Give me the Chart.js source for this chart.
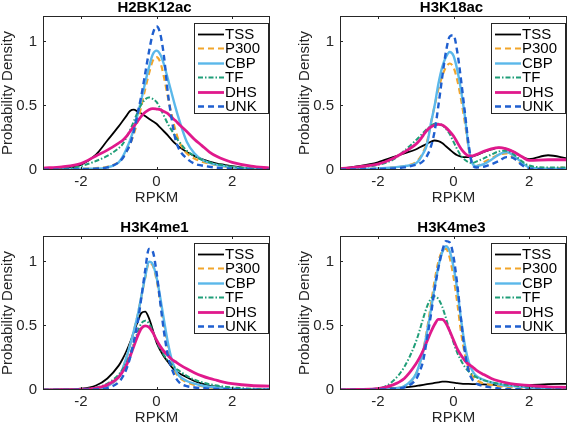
<!DOCTYPE html>
<html>
<head>
<meta charset="utf-8">
<script src="https://cdn.jsdelivr.net/npm/chart.js@4.4.1/dist/chart.umd.min.js"></script>
<style>
    html, body { margin: 0; padding: 0; background: #fff; overflow: hidden; width: 567px; height: 423px; }
    canvas.panel { position: absolute; }
</style>
</head>
<body>
<canvas id="p1" class="panel" width="283" height="212" style="left:0px;top:0px"></canvas>
<canvas id="p2" class="panel" width="283" height="212" style="left:297px;top:0px"></canvas>
<canvas id="p3" class="panel" width="283" height="212" style="left:0px;top:220px"></canvas>
<canvas id="p4" class="panel" width="283" height="212" style="left:297px;top:220px"></canvas>
<script>
const xGrid = [-3, -2.5, -2, -1.6, -1.3, -1, -0.9, -0.8, -0.7, -0.6, -0.5, -0.4, -0.3, -0.2, -0.1, 0,
               0.1, 0.2, 0.3, 0.4, 0.5, 0.6, 0.8, 1, 1.2, 1.4, 1.6, 1.8, 2, 2.5, 3];
const xTicks = [-2, 0, 2];
const yTicks = [0, 0.5, 1];
const seriesNames = ['TSS', 'P300', 'CBP', 'TF', 'DHS', 'UNK'];

// H2BK12ac
const h2bkTSS  = [0.005, 0.01, 0.04, 0.12, 0.23, 0.34, 0.38, 0.42, 0.46, 0.47, 0.455, 0.44, 0.42, 0.40, 0.38, 0.36, 0.33, 0.30, 0.27, 0.235, 0.205, 0.18, 0.14, 0.11, 0.085, 0.065, 0.05, 0.04, 0.03, 0.012, 0.005];
const h2bkP300 = [0.003, 0.005, 0.01, 0.015, 0.025, 0.06, 0.09, 0.14, 0.2, 0.28, 0.38, 0.5, 0.63, 0.75, 0.85, 0.88, 0.84, 0.72, 0.57, 0.43, 0.31, 0.22, 0.13, 0.09, 0.065, 0.05, 0.038, 0.028, 0.02, 0.008, 0.004];
const h2bkCBP  = [0.003, 0.005, 0.01, 0.01, 0.02, 0.06, 0.1, 0.16, 0.23, 0.32, 0.43, 0.55, 0.68, 0.8, 0.9, 0.93, 0.9, 0.82, 0.71, 0.6, 0.49, 0.39, 0.22, 0.13, 0.08, 0.055, 0.04, 0.03, 0.02, 0.01, 0.005];
const h2bkTF   = [0.005, 0.01, 0.03, 0.07, 0.11, 0.17, 0.2, 0.25, 0.31, 0.38, 0.45, 0.51, 0.55, 0.565, 0.555, 0.53, 0.48, 0.42, 0.36, 0.31, 0.26, 0.22, 0.15, 0.11, 0.08, 0.06, 0.045, 0.035, 0.025, 0.012, 0.006];
const h2bkDHS  = [0.015, 0.025, 0.05, 0.11, 0.155, 0.21, 0.23, 0.26, 0.3, 0.34, 0.38, 0.42, 0.45, 0.47, 0.478, 0.475, 0.47, 0.455, 0.44, 0.41, 0.385, 0.355, 0.3, 0.24, 0.19, 0.14, 0.105, 0.08, 0.06, 0.03, 0.015];
const h2bkUNK  = [0.002, 0.003, 0.005, 0.01, 0.02, 0.06, 0.09, 0.14, 0.2, 0.3, 0.44, 0.58, 0.75, 0.92, 1.06, 1.12, 1.06, 0.88, 0.6, 0.4, 0.24, 0.16, 0.09, 0.05, 0.035, 0.025, 0.018, 0.013, 0.01, 0.005, 0.002];

// H3K18ac
const h3k18TSS  = [0.01, 0.03, 0.06, 0.1, 0.13, 0.16, 0.175, 0.19, 0.205, 0.22, 0.23, 0.225, 0.21, 0.185, 0.16, 0.135, 0.115, 0.105, 0.1, 0.1, 0.105, 0.115, 0.14, 0.16, 0.175, 0.165, 0.14, 0.105, 0.085, 0.115, 0.09];
const h3k18P300 = [0.005, 0.008, 0.012, 0.02, 0.03, 0.06, 0.09, 0.14, 0.22, 0.36, 0.5, 0.63, 0.73, 0.8, 0.83, 0.8, 0.7, 0.55, 0.37, 0.17, 0.05, 0.03, 0.06, 0.09, 0.12, 0.13, 0.09, 0.05, 0.02, 0.01, 0.02];
const h3k18CBP  = [0.005, 0.008, 0.012, 0.02, 0.03, 0.05, 0.08, 0.13, 0.2, 0.36, 0.5, 0.67, 0.8, 0.88, 0.92, 0.89, 0.78, 0.62, 0.42, 0.18, 0.05, 0.03, 0.045, 0.08, 0.12, 0.14, 0.11, 0.06, 0.02, 0.01, 0.01];
const h3k18TF   = [0.01, 0.02, 0.04, 0.08, 0.15, 0.23, 0.26, 0.29, 0.32, 0.345, 0.36, 0.36, 0.35, 0.32, 0.28, 0.22, 0.16, 0.11, 0.08, 0.06, 0.055, 0.065, 0.09, 0.12, 0.145, 0.15, 0.12, 0.07, 0.035, 0.02, 0.02];
const h3k18DHS  = [0.01, 0.025, 0.045, 0.09, 0.14, 0.2, 0.23, 0.27, 0.31, 0.335, 0.35, 0.355, 0.35, 0.33, 0.3, 0.265, 0.215, 0.165, 0.13, 0.11, 0.11, 0.12, 0.145, 0.165, 0.175, 0.165, 0.14, 0.105, 0.075, 0.08, 0.08];
const h3k18UNK  = [0.003, 0.005, 0.008, 0.012, 0.02, 0.04, 0.05, 0.07, 0.11, 0.18, 0.3, 0.5, 0.72, 0.92, 1.04, 1.05, 0.92, 0.7, 0.45, 0.2, 0.04, 0.02, 0.025, 0.045, 0.07, 0.1, 0.09, 0.04, 0.01, 0.005, 0.005];

// H3K4me1
const h3k4me1TSS  = [0.002, 0.004, 0.01, 0.035, 0.09, 0.19, 0.24, 0.3, 0.37, 0.45, 0.53, 0.6, 0.61, 0.56, 0.47, 0.37, 0.31, 0.26, 0.22, 0.18, 0.15, 0.13, 0.1, 0.07, 0.05, 0.035, 0.025, 0.015, 0.01, 0.004, 0.002];
const h3k4me1P300 = [0.001, 0.002, 0.004, 0.01, 0.03, 0.1, 0.16, 0.25, 0.35, 0.46, 0.58, 0.73, 0.87, 0.99, 0.97, 0.86, 0.69, 0.5, 0.34, 0.22, 0.14, 0.1, 0.06, 0.04, 0.03, 0.02, 0.015, 0.012, 0.008, 0.004, 0.002];
const h3k4me1CBP  = [0.001, 0.002, 0.004, 0.01, 0.03, 0.1, 0.16, 0.25, 0.35, 0.46, 0.58, 0.73, 0.88, 1.0, 0.98, 0.88, 0.72, 0.54, 0.37, 0.24, 0.16, 0.11, 0.07, 0.05, 0.035, 0.025, 0.02, 0.015, 0.01, 0.005, 0.003];
const h3k4me1TF   = [0.002, 0.003, 0.006, 0.02, 0.05, 0.12, 0.16, 0.21, 0.28, 0.36, 0.45, 0.52, 0.54, 0.52, 0.46, 0.38, 0.32, 0.27, 0.23, 0.2, 0.17, 0.15, 0.11, 0.08, 0.06, 0.045, 0.035, 0.025, 0.02, 0.01, 0.005];
const h3k4me1DHS  = [0.001, 0.002, 0.005, 0.015, 0.04, 0.1, 0.14, 0.19, 0.26, 0.34, 0.42, 0.48, 0.5, 0.49, 0.45, 0.39, 0.34, 0.3, 0.27, 0.24, 0.22, 0.2, 0.165, 0.135, 0.11, 0.09, 0.075, 0.06, 0.05, 0.035, 0.03];
const h3k4me1UNK  = [0.001, 0.001, 0.002, 0.005, 0.015, 0.06, 0.1, 0.16, 0.25, 0.38, 0.52, 0.72, 0.93, 1.1, 1.08, 0.92, 0.68, 0.45, 0.27, 0.17, 0.1, 0.06, 0.03, 0.02, 0.015, 0.01, 0.008, 0.006, 0.005, 0.003, 0.002];

// H3K4me3
const h3k4me3TSS  = [0.002, 0.004, 0.01, 0.015, 0.02, 0.03, 0.035, 0.04, 0.045, 0.05, 0.055, 0.06, 0.065, 0.065, 0.062, 0.058, 0.053, 0.05, 0.048, 0.047, 0.046, 0.045, 0.044, 0.042, 0.038, 0.035, 0.033, 0.035, 0.04, 0.045, 0.048];
const h3k4me3P300 = [0.001, 0.002, 0.004, 0.01, 0.03, 0.12, 0.2, 0.31, 0.47, 0.66, 0.85, 1.0, 1.08, 1.1, 1.03, 0.88, 0.68, 0.45, 0.28, 0.17, 0.11, 0.08, 0.05, 0.04, 0.03, 0.025, 0.02, 0.015, 0.012, 0.008, 0.005];
const h3k4me3CBP  = [0.001, 0.002, 0.004, 0.01, 0.03, 0.12, 0.2, 0.3, 0.45, 0.62, 0.8, 0.96, 1.07, 1.12, 1.08, 0.96, 0.78, 0.55, 0.35, 0.22, 0.15, 0.11, 0.08, 0.06, 0.045, 0.035, 0.03, 0.025, 0.02, 0.015, 0.01];
const h3k4me3TF   = [0.002, 0.004, 0.01, 0.07, 0.18, 0.37, 0.46, 0.56, 0.65, 0.71, 0.73, 0.71, 0.65, 0.56, 0.46, 0.37, 0.29, 0.23, 0.18, 0.145, 0.12, 0.1, 0.075, 0.06, 0.05, 0.04, 0.035, 0.03, 0.025, 0.02, 0.015];
const h3k4me3DHS  = [0.002, 0.004, 0.01, 0.04, 0.09, 0.2, 0.25, 0.31, 0.38, 0.45, 0.51, 0.55, 0.55, 0.52, 0.46, 0.39, 0.32, 0.27, 0.23, 0.2, 0.18, 0.155, 0.12, 0.09, 0.07, 0.055, 0.045, 0.04, 0.035, 0.025, 0.02];
const h3k4me3UNK  = [0.001, 0.001, 0.003, 0.008, 0.02, 0.08, 0.14, 0.23, 0.4, 0.58, 0.78, 0.95, 1.08, 1.16, 1.15, 1.04, 0.82, 0.55, 0.3, 0.15, 0.08, 0.05, 0.03, 0.02, 0.012, 0.008, 0.006, 0.005, 0.004, 0.003, 0.002];

const FONT = "'Liberation Sans', Arial, Helvetica, sans-serif";
const AXIS_COLOR = '#262626';
const seriesStyles = [
    { color: '#000000', width: 1.8, dash: [] },
    { color: '#f2a52b', width: 2.2, dash: [6, 4] },
    { color: '#5bb8ea', width: 2.4, dash: [] },
    { color: '#1f9e78', width: 2, dash: [5, 2, 1.5, 2] },
    { color: '#e0198c', width: 2.8, dash: [] },
    { color: '#1f5fcf', width: 2.4, dash: [6, 4] }
];

// frame, inward ticks, panel title and legend box (MATLAB look)
const panelDecor = {
    id: 'panelDecor',
    afterDatasetsDraw(chart, args, opts) {
        const ctx = chart.ctx;
        const a = chart.chartArea;
        const xs = chart.scales.x, ys = chart.scales.y;
        ctx.save();
        ctx.setLineDash([]);
        ctx.strokeStyle = AXIS_COLOR;
        ctx.lineWidth = 1;
        ctx.strokeRect(a.left + 0.5, a.top + 0.5, a.right - a.left - 1, a.bottom - a.top - 1);
        ctx.beginPath();
        xTicks.forEach(v => {
            const px = Math.round(xs.getPixelForValue(v)) + 0.5;
            ctx.moveTo(px, a.bottom); ctx.lineTo(px, a.bottom - 3);
            ctx.moveTo(px, a.top); ctx.lineTo(px, a.top + 3);
        });
        yTicks.forEach(v => {
            const py = Math.round(ys.getPixelForValue(v)) - 0.5;
            ctx.moveTo(a.left, py); ctx.lineTo(a.left + 3, py);
            ctx.moveTo(a.right, py); ctx.lineTo(a.right - 3, py);
        });
        ctx.stroke();

        // legend
        const lw = 75, lh = 91;
        const lx = a.right - 76, ly = a.top + 7;
        ctx.fillStyle = '#ffffff';
        ctx.fillRect(lx, ly, lw, lh);
        ctx.strokeRect(lx + 0.5, ly + 0.5, lw - 1, lh - 1);
        ctx.font = '15px ' + FONT;
        ctx.textAlign = 'left';
        ctx.textBaseline = 'middle';
        chart.data.datasets.forEach((ds, i) => {
            const y = Math.round(ly + 11 + i * 14.4) + 0.5;
            ctx.setLineDash(ds.borderDash || []);
            ctx.strokeStyle = ds.borderColor;
            ctx.lineWidth = ds.borderWidth;
            ctx.beginPath();
            ctx.moveTo(lx + 4, y);
            ctx.lineTo(lx + 30, y);
            ctx.stroke();
            ctx.fillStyle = '#000000';
            ctx.fillText(ds.label, lx + 31, y + 0.5);
        });
        ctx.restore();
    },
    afterDraw(chart, args, opts) {
        const ctx = chart.ctx;
        const a = chart.chartArea;
        ctx.save();
        ctx.font = 'bold 15px ' + FONT;
        ctx.fillStyle = '#000000';
        ctx.textAlign = 'center';
        ctx.textBaseline = 'middle';
        ctx.fillText(opts.title, (a.left + a.right) / 2 - 2, 7.5);
        ctx.restore();
    }
};

function makePanel(id, title, series) {
    new Chart(document.getElementById(id), {
        type: 'line',
        data: {
            datasets: seriesNames.map((name, i) => ({
                label: name,
                data: xGrid.map((x, j) => ({ x: x, y: series[i][j] })),
                borderColor: seriesStyles[i].color,
                borderWidth: seriesStyles[i].width,
                borderDash: seriesStyles[i].dash,
                fill: false,
                order: seriesNames.length - i
            }))
        },
        options: {
            responsive: false,
            animation: false,
            devicePixelRatio: 1,
            layout: { padding: { top: 16, right: 13, left: 0, bottom: 0 } },
            elements: {
                point: { radius: 0 },
                line: { cubicInterpolationMode: 'monotone' }
            },
            plugins: {
                legend: { display: false },
                tooltip: { enabled: false },
                panelDecor: { title: title }
            },
            scales: {
                x: {
                    type: 'linear',
                    min: -3,
                    max: 3,
                    afterBuildTicks: s => { s.ticks = xTicks.map(v => ({ value: v })); },
                    afterFit: s => { s.height = 42; },
                    grid: { display: false, drawTicks: false },
                    border: { display: false },
                    ticks: {
                        autoSkip: false,
                        maxRotation: 0,
                        padding: 3,
                        color: AXIS_COLOR,
                        font: { family: FONT, size: 15 },
                        callback: v => String(v)
                    },
                    title: {
                        display: true,
                        text: 'RPKM',
                        color: AXIS_COLOR,
                        font: { family: FONT, size: 15, lineHeight: 1 },
                        padding: { top: 0, bottom: 6.5 }
                    }
                },
                y: {
                    min: 0,
                    max: 1.2,
                    afterBuildTicks: s => { s.ticks = yTicks.map(v => ({ value: v })); },
                    afterFit: s => { s.width = 43; },
                    grid: { display: false, drawTicks: false },
                    border: { display: false },
                    ticks: {
                        autoSkip: false,
                        padding: 6,
                        color: AXIS_COLOR,
                        font: { family: FONT, size: 15 },
                        callback: v => String(v)
                    },
                    title: {
                        display: true,
                        text: 'Probability Density',
                        color: AXIS_COLOR,
                        font: { family: FONT, size: 15, lineHeight: 1 },
                        padding: { top: 0, bottom: 0 }
                    }
                }
            }
        },
        plugins: [panelDecor]
    });
}

makePanel('p1', 'H2BK12ac', [h2bkTSS, h2bkP300, h2bkCBP, h2bkTF, h2bkDHS, h2bkUNK]);
makePanel('p2', 'H3K18ac', [h3k18TSS, h3k18P300, h3k18CBP, h3k18TF, h3k18DHS, h3k18UNK]);
makePanel('p3', 'H3K4me1', [h3k4me1TSS, h3k4me1P300, h3k4me1CBP, h3k4me1TF, h3k4me1DHS, h3k4me1UNK]);
makePanel('p4', 'H3K4me3', [h3k4me3TSS, h3k4me3P300, h3k4me3CBP, h3k4me3TF, h3k4me3DHS, h3k4me3UNK]);
</script>
</body>
</html>
